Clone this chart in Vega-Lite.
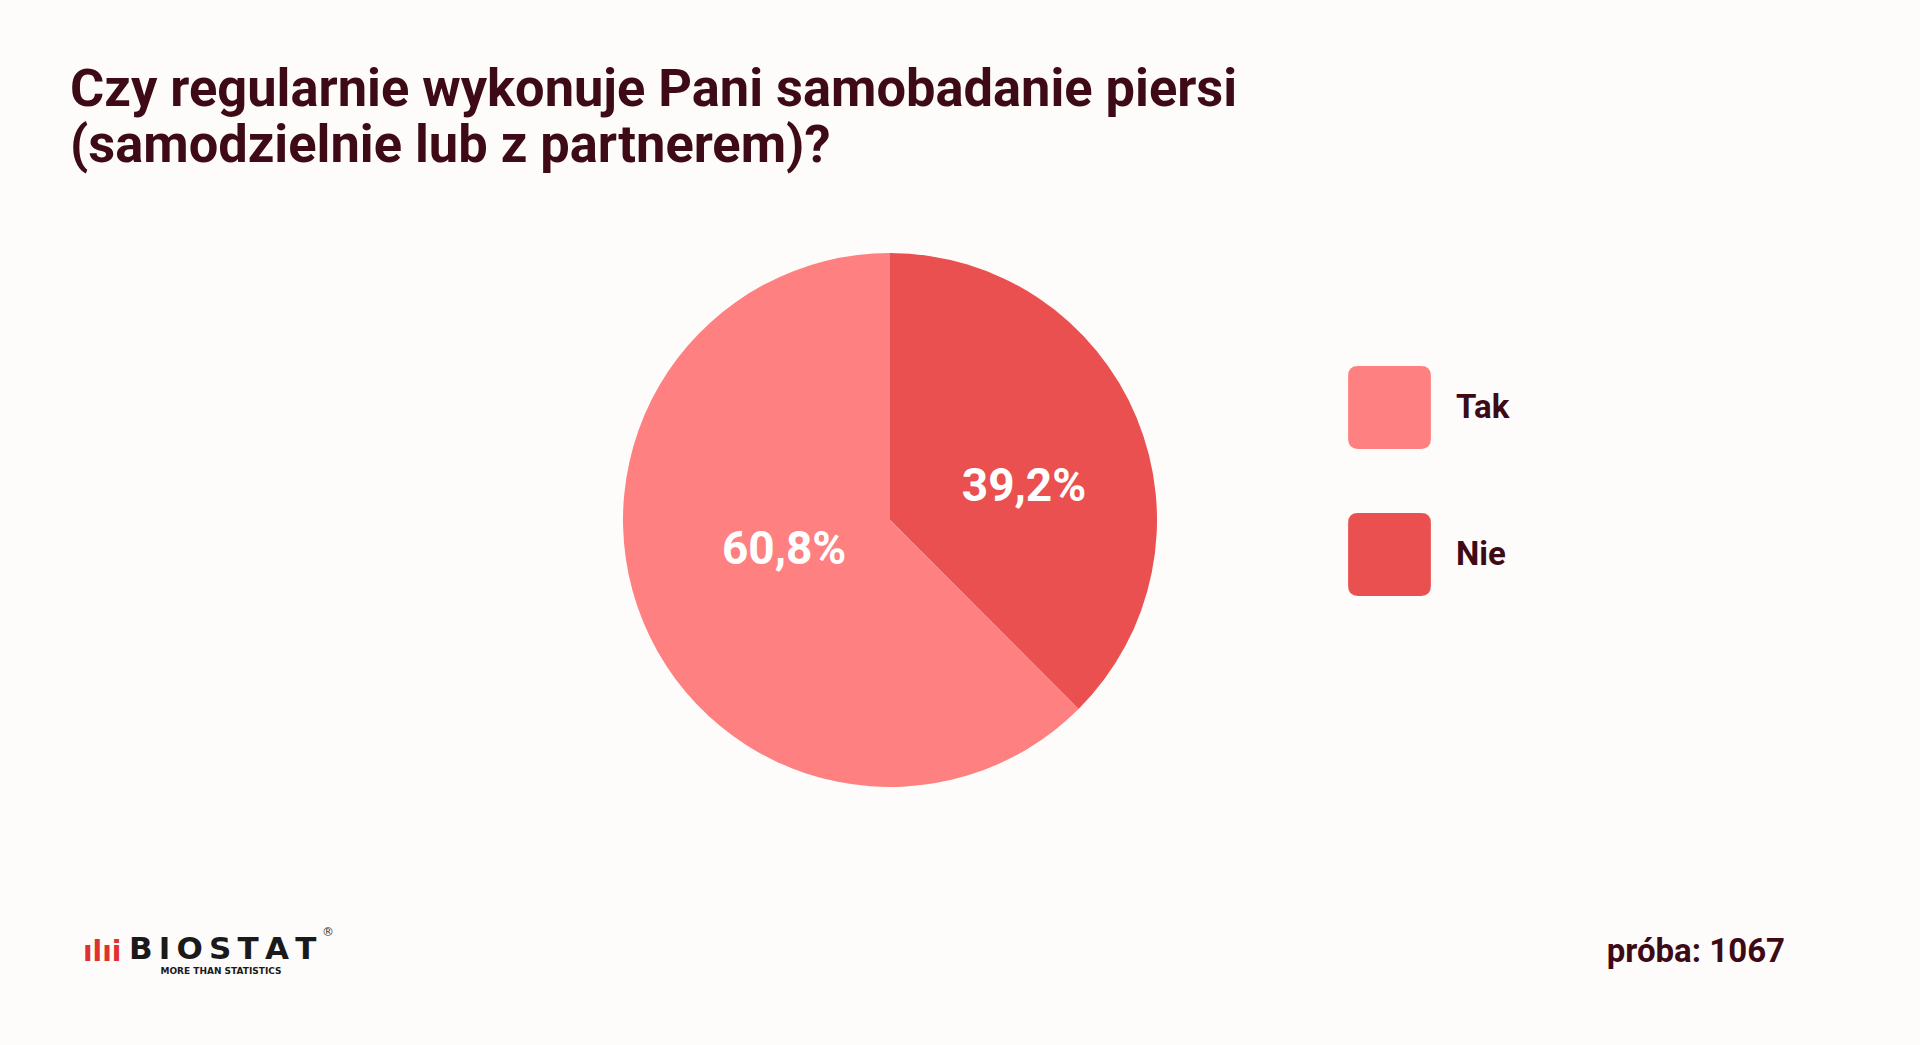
{
  "$schema": "https://vega.github.io/schema/vega-lite/v6.json",
  "width": 1640,
  "height": 534,
  "autosize": {"type": "none"},
  "padding": {"left": 70, "top": 253, "right": 210, "bottom": 258},
  "background": "#fdfcfa",
  "config": {
    "view": {"stroke": null},
    "locale": {"number": {"decimal": ",", "thousands": " ", "grouping": [3], "currency": ["", " zł"]}}
  },
  "title": {
    "text": ["Czy regularnie wykonuje Pani samobadanie piersi", "(samodzielnie lub z partnerem)?"],
    "anchor": "start",
    "frame": "group",
    "font": "Roboto",
    "fontSize": 52.4,
    "fontWeight": 700,
    "color": "#3d0a16",
    "lineHeight": 56,
    "offset": 80
  },
  "datasets": {
    "odpowiedzi": [
      {"odp": "Nie", "udzial": 0.392},
      {"odp": "Tak", "udzial": 0.608}
    ],
    "proba": [{"t": "próba: 1067"}],
    "logo": [{"t": "B\u2009I\u2009O\u2009S\u2009T\u2009A\u2009T"}],
    "slogan": [{"t": "MORE THAN STATISTICS"}],
    "ikona": [{"t": "ılıi"}],
    "znak": [{"t": "®"}]
  },
  "resolve": {"scale": {"theta": "shared"}},
  "layer": [
    {
      "data": {"name": "odpowiedzi"},
      "mark": {"type": "arc", "stroke": null},
      "encoding": {
        "theta": {"field": "udzial", "type": "quantitative", "stack": true, "scale": {"type": "pow", "exponent": 1.0468}},
        "order": {"field": "odp", "sort": "ascending"},
        "color": {
          "field": "odp",
          "type": "nominal",
          "scale": {"domain": ["Tak", "Nie"], "range": ["#fe8080", "#eb5050"]},
          "legend": {
            "title": null,
            "orient": "none",
            "legendX": 1278,
            "legendY": 113,
            "padding": 0,
            "symbolType": "M -0.76 -1 L 0.76 -1 Q 1 -1 1 -0.76 L 1 0.76 Q 1 1 0.76 1 L -0.76 1 Q -1 1 -1 0.76 L -1 -0.76 Q -1 -1 -0.76 -1 Z",
            "symbolSize": 6850,
            "symbolStrokeWidth": 0,
            "symbolOpacity": 1,
            "labelFont": "Roboto",
            "labelFontSize": 33,
            "labelFontWeight": 700,
            "labelColor": "#3d0a16",
            "labelOffset": 25,
            "rowPadding": 64
          }
        }
      }
    },
    {
      "data": {"name": "odpowiedzi"},
      "mark": {"type": "text", "radius": 138, "thetaOffset": 0.188, "font": "Roboto", "fontSize": 46, "fontWeight": 700, "color": "#ffffff", "align": "center", "baseline": "middle"},
      "encoding": {
        "theta": {"field": "udzial", "type": "quantitative", "stack": true},
        "order": {"field": "odp", "sort": "ascending"},
        "text": {"condition": {"test": "datum.odp === 'Nie'", "field": "udzial", "format": ".1%"}, "value": ""}
      }
    },
    {
      "data": {"name": "odpowiedzi"},
      "mark": {"type": "text", "radius": 110, "thetaOffset": 0.138, "font": "Roboto", "fontSize": 46, "fontWeight": 700, "color": "#ffffff", "align": "center", "baseline": "middle"},
      "encoding": {
        "theta": {"field": "udzial", "type": "quantitative", "stack": true},
        "order": {"field": "odp", "sort": "ascending"},
        "text": {"condition": {"test": "datum.odp === 'Tak'", "field": "udzial", "format": ".1%"}, "value": ""}
      }
    },
    {
      "data": {"name": "proba"},
      "mark": {"type": "text", "align": "right", "baseline": "alphabetic", "font": "Roboto", "fontSize": 33, "fontWeight": 700, "color": "#3d0a16"},
      "encoding": {"text": {"field": "t"}, "x": {"value": 1715}, "y": {"value": 709}}
    },
    {
      "data": {"name": "logo"},
      "mark": {"type": "text", "align": "left", "baseline": "alphabetic", "font": "DejaVu Sans", "fontSize": 31, "fontWeight": 700, "color": "#1a1a1a"},
      "encoding": {"text": {"field": "t"}, "x": {"value": 59}, "y": {"value": 706}}
    },
    {
      "data": {"name": "slogan"},
      "mark": {"type": "text", "align": "center", "baseline": "alphabetic", "font": "DejaVu Sans", "fontSize": 9, "fontWeight": 700, "color": "#1a1a1a"},
      "encoding": {"text": {"field": "t"}, "x": {"value": 151}, "y": {"value": 721}}
    },
    {
      "data": {"name": "ikona"},
      "mark": {"type": "text", "align": "left", "baseline": "alphabetic", "font": "DejaVu Sans", "fontSize": 28, "fontWeight": 700, "color": "#e0312f"},
      "encoding": {"text": {"field": "t"}, "x": {"value": 13}, "y": {"value": 708}}
    },
    {
      "data": {"name": "znak"},
      "mark": {"type": "text", "align": "center", "baseline": "middle", "font": "DejaVu Sans", "fontSize": 12, "color": "#333333"},
      "encoding": {"text": {"field": "t"}, "x": {"value": 258}, "y": {"value": 679}}
    }
  ]
}
